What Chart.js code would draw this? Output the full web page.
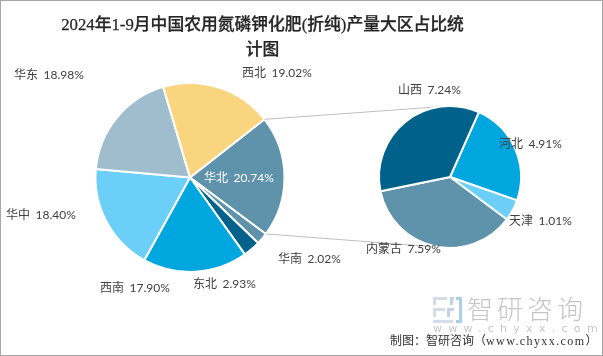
<!DOCTYPE html>
<html><head><meta charset="utf-8">
<style>
html,body{margin:0;padding:0;background:#fff;overflow:hidden}
#f{position:relative;width:603px;height:356px;overflow:hidden}
#b{position:absolute;left:0;top:0;width:601px;height:354px;border:1px solid #a6a6a6;pointer-events:none}
canvas{position:absolute;left:0;top:0}
#t{position:absolute;left:0;top:12px;width:525px;text-align:center;font:500 16.8px/25px "Liberation Serif","Noto Sans CJK SC";color:#262626;-webkit-text-stroke:.25px #262626;white-space:nowrap}
.w{position:absolute}
</style></head><body>
<div id="f">
<canvas id="c1" width="603" height="356"></canvas>
<canvas id="c2" width="603" height="356"></canvas>
<div id="t"></div>
<svg class="w" style="left:433px;top:297px" width="30" height="27" viewBox="0 0 30 27">
<path d="M0 0H14V3H3V8H0Z M0 11H12V14H3V20H0Z M0 23H20V26H0Z" fill="#d3dce8"/>
<path d="M17 0H21V3H20V8H17Z M14 11H21V14H17V20H14Z" fill="#c4d3e4"/>
<path d="M23 0H29V26H23V23H26V3H23Z" fill="#a6d0ec"/></svg>
<div class="w" id="wm" style="left:467px;top:292px;font:300 26px/31px 'Noto Sans CJK SC';letter-spacing:4px;color:#c6c6c6;white-space:nowrap">智研咨询</div>
<div class="w" id="wu" style="left:433px;top:323px;font:11px/12px 'DejaVu Sans';letter-spacing:6.3px;color:#c6c6c6;white-space:nowrap">www.chyxx.com</div>
<div class="w" id="src" style="left:390px;top:333px;font:12px/16px 'Liberation Serif','Noto Sans CJK SC';color:#333;white-space:nowrap">制图：智研咨询（<span style="letter-spacing:1.4px">www.chyxx.com</span>）</div>
<div id="b"></div>
</div>
<script src="https://cdn.jsdelivr.net/npm/chart.js@4/dist/chart.umd.js"></script>
<script>
const titleLines = ["2024年1-9月中国农用氮磷钾化肥(折纯)产量大区占比统","计图"];
const mainRegions = ["华北","华南","东北","西南","华中","华东","西北"];
const mainValues = [20.74,2.02,2.93,17.90,18.40,18.98,19.02];
const subRegions = ["河北","天津","内蒙古","山西"];
const subValues = [4.91,1.01,7.59,7.24];
const mainColors = ["#5f93ab","#5f93ab","#00628b","#00a6de","#6ccff8","#9fbdcc","#f8d57e"];
const subColors = ["#00a6de","#6ccff8","#5f93ab","#00628b"];
const mainLabelAt = [[204,178],[278,259],[193,284],[100,288],[6,215],[14,75],[242,73]];
const subLabelAt = [[499,144],[509,221],[366,249],[398,90]];

document.getElementById('t').innerHTML = titleLines.join('<br>');
const labelFont = '12px Lato,"Noto Sans CJK SC"';

function labelPlugin(names, values, at, whiteIdx){
  return {id:'lbl',afterDatasetsDraw(ch){
    const g=ch.ctx;g.save();g.font=labelFont;g.wordSpacing='2.5px';g.textBaseline='middle';g.textAlign='left';
    names.forEach((n,i)=>{
      g.fillStyle=i===whiteIdx?'#ffffff':'#404040';
      g.fillText(n+' '+values[i].toFixed(2)+'%',at[i][0],at[i][1]);
    });
    g.restore();
  }};
}
Chart.defaults.animation=false;
function pie(id,labels,data,colors,rotation,radius,pad,plugins){
  return new Chart(document.getElementById(id),{
    type:'pie',
    data:{labels,datasets:[{data,backgroundColor:colors,borderColor:'#ffffff',borderWidth:2}]},
    options:{responsive:false,rotation,radius,layout:{padding:pad},
      plugins:{legend:{display:false},tooltip:{enabled:false},title:{display:false}}},
    plugins
  });
}
const connector={id:'conn',beforeDatasetsDraw(ch){
  const a=main.getDatasetMeta(0).data[0], b=ch.getDatasetMeta(0).data[0];
  const R=a.outerRadius,r=b.outerRadius,g=ch.ctx;
  const pts=[[a.startAngle,b.x,b.y-r],[a.endAngle,b.x,b.y+r]];
  g.save();g.strokeStyle='#bfbfbf';g.lineWidth=1;
  pts.forEach(([t,x,y])=>{g.beginPath();g.moveTo(a.x+R*Math.cos(t),a.y+R*Math.sin(t));g.lineTo(x,y);g.stroke();});
  g.restore();
}};
const main=pie('c1',mainRegions,mainValues,mainColors,52,94.5,{left:0,right:223,top:0,bottom:1},[labelPlugin(mainRegions,mainValues,mainLabelAt,0)]);
pie('c2',subRegions,subValues,subColors,24,71,{left:300,right:3,top:0,bottom:2},[connector,labelPlugin(subRegions,subValues,subLabelAt,-1)]);
</script></body></html>
